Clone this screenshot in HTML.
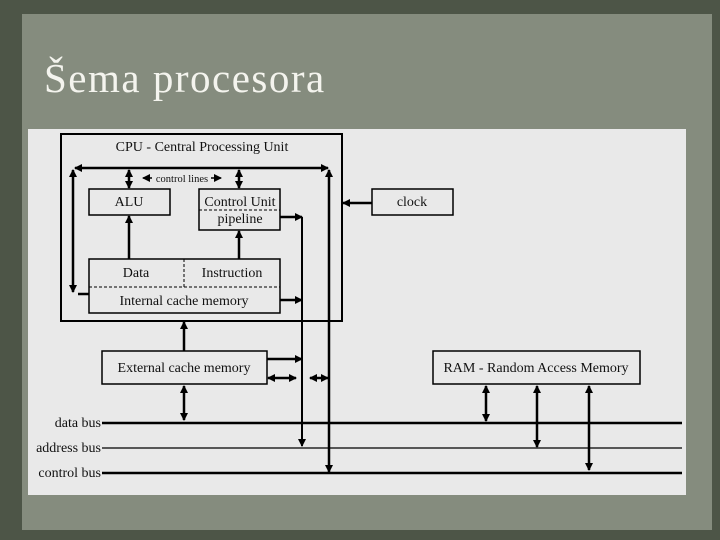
<!DOCTYPE html>
<html><head><meta charset="utf-8"><style>
html,body{margin:0;padding:0}
body{width:720px;height:540px;overflow:hidden;background:#4d5547;position:relative;font-family:"Liberation Serif",serif}
.paper{position:absolute;left:22px;top:14px;width:690px;height:516px;background:#858c7e}
.title{position:absolute;left:44px;top:58px;font-size:41px;line-height:41px;color:#f4f4ee;letter-spacing:1.5px}
.dg{position:absolute;left:28px;top:129px;width:658px;height:366px;background:#e9e9e9}
svg text{font-family:"Liberation Serif",serif;font-size:14px;fill:#111}
</style></head><body>
<div class="paper"></div>
<div class="title">Šema procesora</div>
<div class="dg"></div>
<svg width="720" height="540" style="position:absolute;left:0;top:0">
<defs>
<marker id="a" markerWidth="8" markerHeight="8" refX="7" refY="4" orient="auto-start-reverse" markerUnits="userSpaceOnUse"><path d="M0,0 L8,4 L0,8 z" fill="#000"/></marker>
</defs>
<g fill="none" stroke="#000">
<rect x="61" y="134" width="281" height="187" stroke-width="2"/>
<rect x="89" y="189" width="81" height="26" stroke-width="1.5"/>
<rect x="199" y="189" width="81" height="41" stroke-width="1.5"/>
<line x1="199" y1="210" x2="280" y2="210" stroke-dasharray="3,2" stroke-width="1"/>
<rect x="89" y="259" width="191" height="54" stroke-width="1.5"/>
<line x1="89" y1="287" x2="280" y2="287" stroke-dasharray="3,2" stroke-width="1"/>
<line x1="184" y1="259" x2="184" y2="287" stroke-dasharray="3,2" stroke-width="1"/>
<rect x="372" y="189" width="81" height="26" stroke-width="1.5"/>
<rect x="102" y="351" width="165" height="33" stroke-width="1.5"/>
<rect x="433" y="351" width="207" height="33" stroke-width="1.5"/>
<g stroke-width="2.5">
<line x1="75" y1="168" x2="328" y2="168" marker-start="url(#a)" marker-end="url(#a)"/>
<line x1="73" y1="170" x2="73" y2="292" marker-start="url(#a)" marker-end="url(#a)"/>
<line x1="78" y1="294" x2="89" y2="294"/>
<line x1="129" y1="170" x2="129" y2="188" marker-start="url(#a)" marker-end="url(#a)"/>
<line x1="239" y1="170" x2="239" y2="188" marker-start="url(#a)" marker-end="url(#a)"/>
<line x1="129" y1="259" x2="129" y2="216" marker-end="url(#a)"/>
<line x1="239" y1="259" x2="239" y2="231" marker-end="url(#a)"/>
<line x1="280" y1="217" x2="302" y2="217" marker-end="url(#a)"/>
<line x1="280" y1="300" x2="302" y2="300" marker-end="url(#a)"/>
<line x1="329" y1="170" x2="329" y2="472" marker-start="url(#a)" marker-end="url(#a)"/>
<line x1="372" y1="203" x2="343" y2="203" marker-end="url(#a)"/>
<line x1="184" y1="351" x2="184" y2="322" marker-end="url(#a)"/>
<line x1="267" y1="359" x2="302" y2="359" marker-end="url(#a)"/>
<line x1="268" y1="378" x2="296" y2="378" marker-start="url(#a)" marker-end="url(#a)"/>
<line x1="310" y1="378" x2="328" y2="378" marker-start="url(#a)" marker-end="url(#a)"/>
<line x1="184" y1="386" x2="184" y2="420" marker-start="url(#a)" marker-end="url(#a)"/>
<line x1="486" y1="386" x2="486" y2="421" marker-start="url(#a)" marker-end="url(#a)"/>
<line x1="537" y1="386" x2="537" y2="447" marker-start="url(#a)" marker-end="url(#a)"/>
<line x1="589" y1="386" x2="589" y2="470" marker-start="url(#a)" marker-end="url(#a)"/>
<line x1="102" y1="423" x2="682" y2="423"/>
<line x1="102" y1="473" x2="682" y2="473"/>
</g>
<line x1="302" y1="217" x2="302" y2="446" stroke-width="2" marker-end="url(#a)"/>
<line x1="102" y1="448" x2="682" y2="448" stroke-width="1.2"/>
<line x1="152" y1="178" x2="143" y2="178" stroke-width="1.5" marker-end="url(#a)"/>
<line x1="211" y1="178" x2="221" y2="178" stroke-width="1.5" marker-end="url(#a)"/>
</g>
<text x="202" y="151" text-anchor="middle">CPU - Central Processing Unit</text>
<text x="182" y="182" text-anchor="middle" style="font-size:10.5px">control lines</text>
<text x="129" y="206" text-anchor="middle">ALU</text>
<text x="240" y="206" text-anchor="middle">Control Unit</text>
<text x="240" y="223" text-anchor="middle">pipeline</text>
<text x="136" y="277" text-anchor="middle">Data</text>
<text x="232" y="277" text-anchor="middle">Instruction</text>
<text x="184" y="305" text-anchor="middle">Internal cache memory</text>
<text x="412" y="206" text-anchor="middle">clock</text>
<text x="184" y="372" text-anchor="middle">External cache memory</text>
<text x="536" y="372" text-anchor="middle">RAM - Random Access Memory</text>
<text x="101" y="427" text-anchor="end">data bus</text>
<text x="101" y="452" text-anchor="end">address bus</text>
<text x="101" y="477" text-anchor="end">control bus</text>
</svg>
</body></html>
